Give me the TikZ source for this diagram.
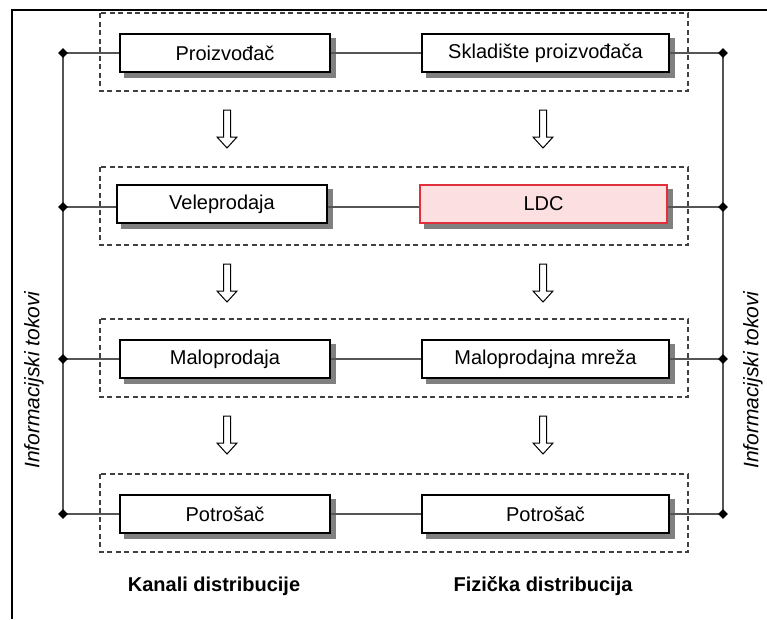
\documentclass[tikz,border=0pt]{standalone}
\usepackage{fontspec}
\setmainfont{Liberation Sans}
\usetikzlibrary{shapes.geometric}
\definecolor{ldcfill}{HTML}{FCE0E1}
\definecolor{ldcline}{HTML}{E0303C}
\definecolor{conn}{HTML}{555555}
\pgfdeclarelayer{bg}
\pgfdeclarelayer{shadowlayer}
\pgfsetlayers{bg,shadowlayer,main}
\begin{document}
\begin{tikzpicture}[x=1pt,y=-1pt,
  boxbase/.style={draw=black, line width=1.1pt, fill=white, minimum height=38pt, inner sep=0pt,
    font=\fontsize{20}{24}\selectfont},
  leftbox/.style={boxbase, minimum width=210pt},
  rightbox/.style={boxbase, minimum width=247pt},
  ldcbox/.style={draw=ldcline, fill=ldcfill, line width=2.4pt},
  boxshadow/.style={fill=black!50, draw=none},
  group/.style={draw=black!75, line width=1.1pt, dash pattern=on 5pt off 3.5pt},
  conline/.style={draw=conn, line width=1.6pt},
  junction/.style={diamond, fill=black, inner sep=0pt, minimum size=10pt},
  sidelabel/.style={font=\fontsize{21}{24}\selectfont\itshape, rotate=90},
  bottomlabel/.style={font=\fontsize{20}{24}\selectfont\bfseries},
  downarrow/.pic={\draw[line width=1pt, fill=white] (-3.5,-19) -- (3.5,-19) -- (3.5,8) -- (10,8) -- (0,19) -- (-10,8) -- (-3.5,8) -- cycle;}
]
\useasboundingbox (0,0) rectangle (767,619);
% frame
\draw[line width=2pt] (12,619) -- (12,10) -- (767,10);

% dashed groups
\begin{pgfonlayer}{bg}
\foreach \c/\n in {53/1,207/2,359/3,514/4}{
  \draw[group] (100,\c-40) rectangle (688,\c+38);
}
\end{pgfonlayer}

% side labels
\node[sidelabel] (infoL) at (34,380) {Informacijski tokovi};
\node[sidelabel] (infoR) at (753,380) {Informacijski tokovi};

% junctions
\foreach \c/\n in {53/1,207/2,359/3,514/4}{
  \coordinate (jL\n) at (63,\c);
  \coordinate (jR\n) at (723,\c);
}
\draw[conline] (jL1) -- (jL4);
\draw[conline] (jR1) -- (jR4);

% boxes
\node[leftbox] (a1) at (225,53) {Proizvođač};
\node[rightbox] (b1) at (545.5,53) {Skladište proizvođača};
\node[leftbox] (a2) at (222,204) {Veleprodaja};
\node[rightbox, ldcbox] (b2) at (543.5,204) {LDC};
\node[leftbox] (a3) at (225,359) {Maloprodaja};
\node[rightbox] (b3) at (545.5,359) {Maloprodajna mreža};
\node[leftbox] (a4) at (225,514) {Potrošač};
\node[rightbox] (b4) at (545.5,514) {Potrošač};

% shadows
\begin{pgfonlayer}{shadowlayer}
\foreach \b in {a1,b1,a2,b2,a3,b3,a4,b4}{
  \fill[boxshadow] ([shift={(5,5)}]\b.north west) rectangle ([shift={(5,5)}]\b.south east);
}
\end{pgfonlayer}

% connectors
\foreach \n in {1,2,3,4}{
  \draw[conline] (jL\n) -- (a\n.west |- jL\n);
  \draw[conline] (a\n.east |- jL\n) -- (b\n.west |- jL\n);
  \draw[conline] (b\n.east |- jR\n) -- (jR\n);
  \node[junction] (dL\n) at (jL\n) {};
  \node[junction] (dR\n) at (jR\n) {};
}

% hollow arrows
\pic at (227,129) {downarrow};
\pic at (543,129) {downarrow};
\pic at (227,283) {downarrow};
\pic at (543,283) {downarrow};
\pic at (227,435) {downarrow};
\pic at (543,435) {downarrow};

% bottom labels
\node[bottomlabel] (kanali) at (214,586) {Kanali distribucije};
\node[bottomlabel] (fiz) at (543,586) {Fizička distribucija};
\end{tikzpicture}
\end{document}
